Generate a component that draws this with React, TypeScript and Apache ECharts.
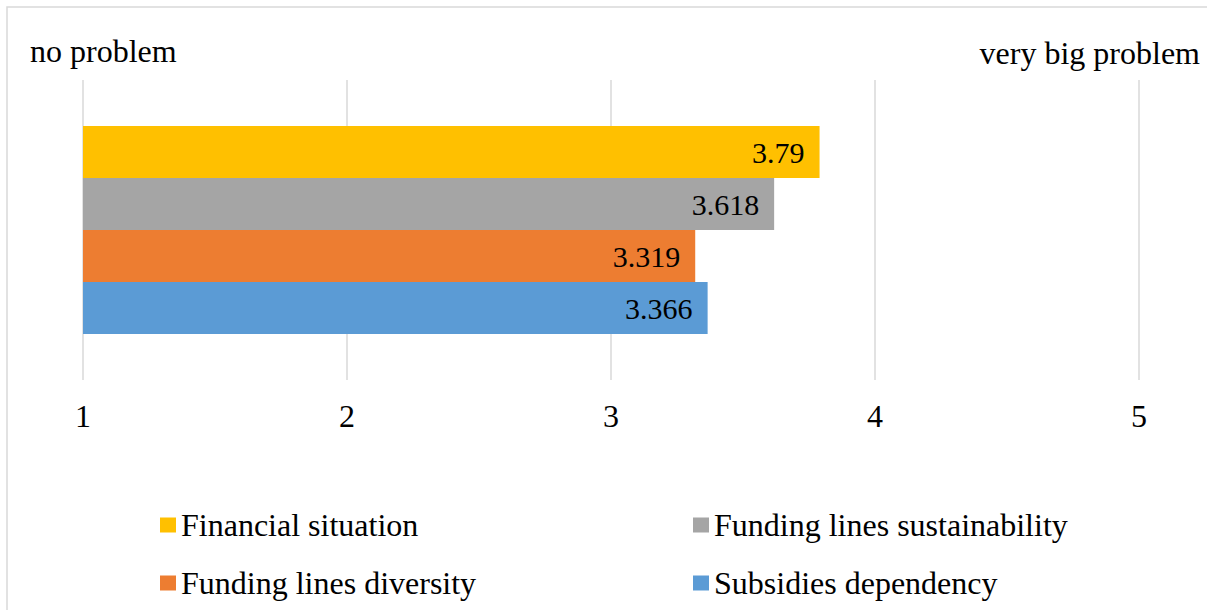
import React, { useEffect, useRef } from "react";
import * as echarts from "echarts";

// Rating scale: 1 = no problem, 5 = very big problem
const seriesNames = [
  "Financial situation",
  "Funding lines sustainability",
  "Funding lines diversity",
  "Subsidies dependency",
];
const seriesValues = [3.79, 3.618, 3.319, 3.366];
const seriesColors = ["#FFC000", "#A5A5A5", "#ED7D31", "#5B9BD5"];
const categories = [""];
const scaleMin = 1;
const scaleMax = 5;
const scaleLeftLabel = "no problem";
const scaleRightLabel = "very big problem";

const FONT = '"Liberation Serif", "Times New Roman", serif';

export default function App() {
  const ref = useRef<HTMLDivElement>(null);

  useEffect(() => {
    if (!ref.current) return;
    const chart = echarts.init(ref.current, null, { renderer: "svg" });

    const series = seriesNames.map((name, i) => ({
      name,
      type: "bar",
      data: [seriesValues[i]],
      itemStyle: { color: seriesColors[i] },
      barWidth: 52,
      barGap: "0%",
      label: {
        show: true,
        position: "insideRight",
        distance: 15,
        color: "#000",
        fontFamily: FONT,
        fontSize: 30,
      },
    }));

    const legendBase = {
      orient: "vertical",
      top: 509,
      padding: 0,
      itemWidth: 16,
      itemHeight: 15,
      itemGap: 26,
      icon: "rect",
      textStyle: { color: "#000", fontFamily: FONT, fontSize: 32, lineHeight: 32 },
    };

    chart.setOption({
      animation: false,
      backgroundColor: "#fff",
      textStyle: { fontFamily: FONT },
      grid: {
        left: 83,
        top: 80,
        width: 1056,
        height: 300,
        containLabel: false,
        outerBoundsMode: "none",
      },
      xAxis: {
        type: "value",
        min: scaleMin,
        max: scaleMax,
        interval: 1,
        axisLine: { show: false },
        axisTick: { show: false },
        splitLine: { show: true, lineStyle: { color: "#d9d9d9", width: 1.5 } },
        axisLabel: {
          color: "#000",
          fontFamily: FONT,
          fontSize: 32,
          margin: 36,
          verticalAlign: "middle",
        },
      },
      yAxis: {
        type: "category",
        data: categories,
        axisLine: { show: false },
        axisTick: { show: false },
        axisLabel: { show: false },
        splitLine: { show: false },
      },
      legend: [
        { ...legendBase, left: 160, data: [seriesNames[0], seriesNames[2]] },
        { ...legendBase, left: 693, data: [seriesNames[1], seriesNames[3]] },
      ],
      graphic: [
        {
          type: "rect",
          silent: true,
          shape: { x: 7, y: 7, width: 1230, height: 640 },
          style: { fill: "none", stroke: "#d9d9d9", lineWidth: 1.5 },
        },
        {
          type: "text",
          x: 30,
          y: 51,
          style: {
            text: scaleLeftLabel,
            fill: "#000",
            font: `32px ${FONT}`,
            textAlign: "left",
            textVerticalAlign: "middle",
          },
        },
        {
          type: "text",
          x: 1200,
          y: 53,
          style: {
            text: scaleRightLabel,
            fill: "#000",
            font: `32px ${FONT}`,
            textAlign: "right",
            textVerticalAlign: "middle",
          },
        },
      ],
      series,
    });

    return () => chart.dispose();
  }, []);

  return (
    <div
      ref={ref}
      style={{ position: "absolute", left: 0, top: 0, width: 1207, height: 610 }}
    />
  );
}
